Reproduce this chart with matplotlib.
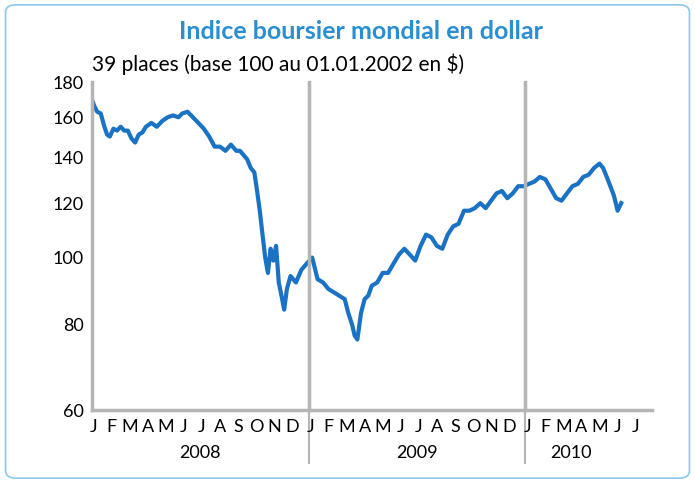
import matplotlib
matplotlib.use("Agg")
import matplotlib.pyplot as plt
from matplotlib.patches import FancyBboxPatch
from matplotlib.ticker import FixedLocator, NullLocator

# (months since 01.01.2008, index value)
points = [
    (0, 170), (0.15, 166), (0.3, 163), (0.5, 162), (0.7, 155), (0.85, 151), (1.0, 150),
    (1.2, 154), (1.4, 153), (1.6, 155), (1.8, 153), (2.0, 153), (2.2, 149), (2.4, 147),
    (2.6, 151), (2.8, 152), (3.0, 155), (3.3, 157), (3.6, 155), (3.9, 158), (4.2, 160),
    (4.5, 161), (4.8, 160), (5.0, 162), (5.3, 163), (5.6, 160), (5.9, 157), (6.2, 154),
    (6.5, 150), (6.8, 145), (7.1, 145), (7.4, 143), (7.7, 146), (8.0, 143), (8.2, 143),
    (8.4, 141), (8.6, 139), (8.8, 135), (9.0, 133), (9.15, 125), (9.3, 117), (9.45, 108),
    (9.6, 100), (9.75, 95), (9.9, 103), (10.05, 99), (10.2, 104), (10.35, 92), (10.5, 88),
    (10.65, 84), (10.8, 90), (11.0, 94), (11.3, 92), (11.6, 96), (11.9, 98), (12.2, 100),
    (12.5, 93), (12.8, 92), (13.1, 90), (13.4, 89), (13.7, 88), (14.0, 87), (14.2, 83),
    (14.4, 80), (14.55, 77), (14.7, 76), (14.9, 83), (15.1, 87), (15.3, 88), (15.5, 91),
    (15.8, 92), (16.1, 95), (16.4, 95), (16.7, 98), (17.0, 101), (17.3, 103), (17.6, 101),
    (17.9, 99), (18.2, 104), (18.5, 108), (18.8, 107), (19.1, 104), (19.4, 103), (19.7, 108),
    (20.0, 111), (20.3, 112), (20.6, 117), (20.9, 117), (21.2, 118), (21.5, 120), (21.8, 118),
    (22.1, 121), (22.4, 124), (22.7, 125), (23.0, 122), (23.3, 124), (23.6, 127), (23.9, 127),
    (24.2, 128), (24.5, 129), (24.8, 131), (25.1, 130), (25.4, 126), (25.7, 122), (26.0, 121),
    (26.3, 124), (26.6, 127), (26.9, 128), (27.2, 131), (27.5, 132), (27.8, 135), (28.1, 137),
    (28.3, 135), (28.5, 131), (28.7, 127), (28.9, 123), (29.1, 117), (29.3, 120),
]
months = [p[0] for p in points]
index = [p[1] for p in points]
month_letters = list("JFMAMJJASOND") * 2 + list("JFMAMJJ")
years = ["2008", "2009", "2010"]
yticks = [60, 80, 100, 120, 140, 160, 180]

fig = plt.figure(figsize=(6.95, 4.83), dpi=100)
fig.patches.append(FancyBboxPatch((0.008, 0.01), 0.984, 0.98, boxstyle="round,pad=0,rounding_size=0.015",
                                  transform=fig.transFigure, fill=False, ec="#8cc8ea", lw=1.2))
ax = fig.add_axes([0.132, 0.151, 0.806, 0.679])
ax.plot(months, index, color="#1a72c4", lw=3, solid_joinstyle="round")
ax.set_yscale("log")
ax.set_ylim(60, 180)
ax.set_xlim(0, 31)
ax.yaxis.set_major_locator(FixedLocator(yticks))
ax.yaxis.set_minor_locator(NullLocator())
ax.set_yticklabels([str(v) for v in yticks], fontsize=13, family="Lato")
ax.set_xticks([])
for s in ["top", "right"]:
    ax.spines[s].set_visible(False)
grey = "#b5b5b5"
for s in ["left", "bottom"]:
    ax.spines[s].set_color(grey)
    ax.spines[s].set_linewidth(2.5)
ax.tick_params(axis="y", length=0, pad=6)
for xb in [12, 24]:
    ax.plot([xb, xb], [0, 1.0], transform=ax.get_xaxis_transform(), color=grey, lw=2.5, clip_on=False)
    ax.plot([xb, xb], [-0.16, 0], transform=ax.get_xaxis_transform(), color=grey, lw=1.5, clip_on=False)
for i, m in enumerate(month_letters):
    ax.text(i + 0.1, -0.028, m, transform=ax.get_xaxis_transform(), ha="center", va="top",
            fontsize=13, family="Lato")
for y, c in zip(years, [6, 18, 26.5]):
    ax.text(c, -0.105, y, transform=ax.get_xaxis_transform(), ha="center", va="top",
            fontsize=13, family="Lato")
fig.text(0.52, 0.935, "Indice boursier mondial en dollar", ha="center", va="center",
         fontsize=18, fontweight="bold", color="#2a8fd0", family="Lato")
fig.text(0.132, 0.868, "39 places (base 100 au 01.01.2002 en $)", ha="left", va="center",
         fontsize=15, family="Lato")
fig.savefig("out.png", dpi=100)
